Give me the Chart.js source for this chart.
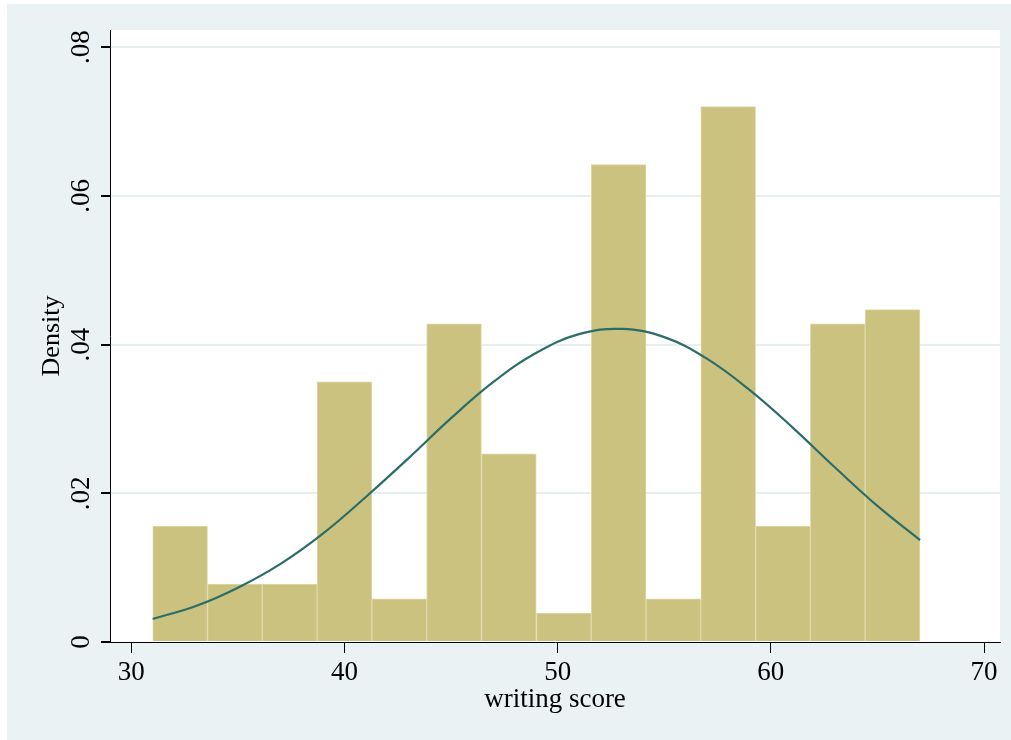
<!DOCTYPE html>
<html>
<head>
<meta charset="utf-8">
<script src="https://cdn.jsdelivr.net/npm/chart.js@4.4.1/dist/chart.umd.min.js"></script>
<style>
  html, body { margin: 0; padding: 0; background: #ffffff; }
  #wrap { position: absolute; left: 7px; top: 4px; width: 1004px; height: 736px; background: #eaf2f3; }
</style>
</head>
<body>
<div id="wrap"><canvas id="histChart" width="1004" height="736"></canvas></div>
<script>
// bin centres (width ~2.57) and densities
var binCenters = [32.29, 34.86, 37.43, 40.00, 42.57, 45.14, 47.71, 50.29, 52.86, 55.43, 58.00, 60.57, 63.14, 65.71];
var binDensity = [0.0156, 0.0078, 0.0078, 0.0350, 0.0058, 0.0428, 0.0253, 0.0039, 0.0642, 0.0058, 0.0720, 0.0156, 0.0428, 0.0447];

// normal density overlay
var curveX = [31, 33, 35, 37, 39, 41, 43, 45, 47, 49, 51, 53, 55, 57, 59, 61, 63, 65, 67];
var curveY = [0.0031, 0.0048, 0.0073, 0.0105, 0.0146, 0.0195, 0.0247, 0.0301, 0.0350, 0.0389, 0.0414, 0.0421, 0.0410, 0.0381, 0.0339, 0.0289, 0.0235, 0.0183, 0.0137];

var xTicks = [30, 40, 50, 60, 70];
var yTicks = [0, 0.02, 0.04, 0.06, 0.08];

var serif = "'Liberation Serif', 'DejaVu Serif', serif";

var barPoints = binCenters.map(function (c, i) { return { x: c, y: binDensity[i] }; });
var linePoints = curveX.map(function (x, i) { return { x: x, y: curveY[i] }; });

var plotBg = {
	id: 'plotBg',
	beforeDraw: function (chart) {
		var a = chart.chartArea, ctx = chart.ctx;
		ctx.save();
		ctx.fillStyle = '#ffffff';
		ctx.fillRect(a.left, a.top, a.right - a.left, a.bottom - a.top);
		ctx.restore();
	}
};

var ctx = document.getElementById('histChart').getContext('2d');
new Chart(ctx, {
	type: 'bar',
	data: {
		datasets: [
			{
				type: 'line',
				data: linePoints,
				borderColor: '#2b6e69',
				borderWidth: 2.2,
				pointRadius: 0,
				tension: 0.4,
				fill: false,
				order: 0
			},
			{
				type: 'bar',
				data: barPoints,
				backgroundColor: '#cac27e',
				borderColor: '#e0d9a9',
				borderWidth: 1,
				barPercentage: 1.0,
				categoryPercentage: 1.0,
				grouped: false,
				order: 1
			}
		]
	},
	options: {
		responsive: false,
		animation: false,
		layout: { padding: { left: 0, top: 26, right: 11, bottom: 0 } },
		plugins: { legend: { display: false }, tooltip: { enabled: false } },
		scales: {
			x: {
				type: 'linear',
				offset: false,
				min: 29.0,
				max: 70.75,
				afterBuildTicks: function (scale) { scale.ticks = xTicks.map(function (v) { return { value: v }; }); },
				afterFit: function (scale) { scale.height = 98; },
				border: { display: true, color: '#000000', width: 1 },
				grid: { offset: false, drawOnChartArea: false, drawTicks: true, tickLength: 11, tickColor: '#000000', tickWidth: 1 },
				ticks: { color: '#000000', font: { family: serif, size: 27 }, padding: 4, maxRotation: 0 },
				title: { display: true, text: 'writing score', color: '#000000', font: { family: serif, size: 27 }, padding: { top: 0, bottom: 24 } }
			},
			y: {
				min: 0,
				max: 0.0823,
				afterBuildTicks: function (scale) { scale.ticks = yTicks.map(function (v) { return { value: v }; }); },
				afterFit: function (scale) { scale.width = 103; },
				border: { display: true, color: '#000000', width: 1 },
				grid: {
					drawTicks: true,
					tickLength: 9,
					tickColor: '#000000',
					lineWidth: 2,
					color: function (c) { return c.tick && c.tick.value === 0 ? 'rgba(0,0,0,0)' : '#e8eff0'; }
				},
				ticks: {
					color: '#000000',
					font: { family: serif, size: 27 },
					minRotation: 90,
					maxRotation: 90,
					crossAlign: 'center',
					padding: 2,
					callback: function (v) { return v === 0 ? '0' : v.toFixed(2).replace(/^0/, ''); }
				},
				title: { display: true, text: 'Density', color: '#000000', font: { family: serif, size: 26 }, padding: { top: 30, bottom: 0 } }
			}
		}
	},
	plugins: [plotBg]
});
</script>
</body>
</html>
